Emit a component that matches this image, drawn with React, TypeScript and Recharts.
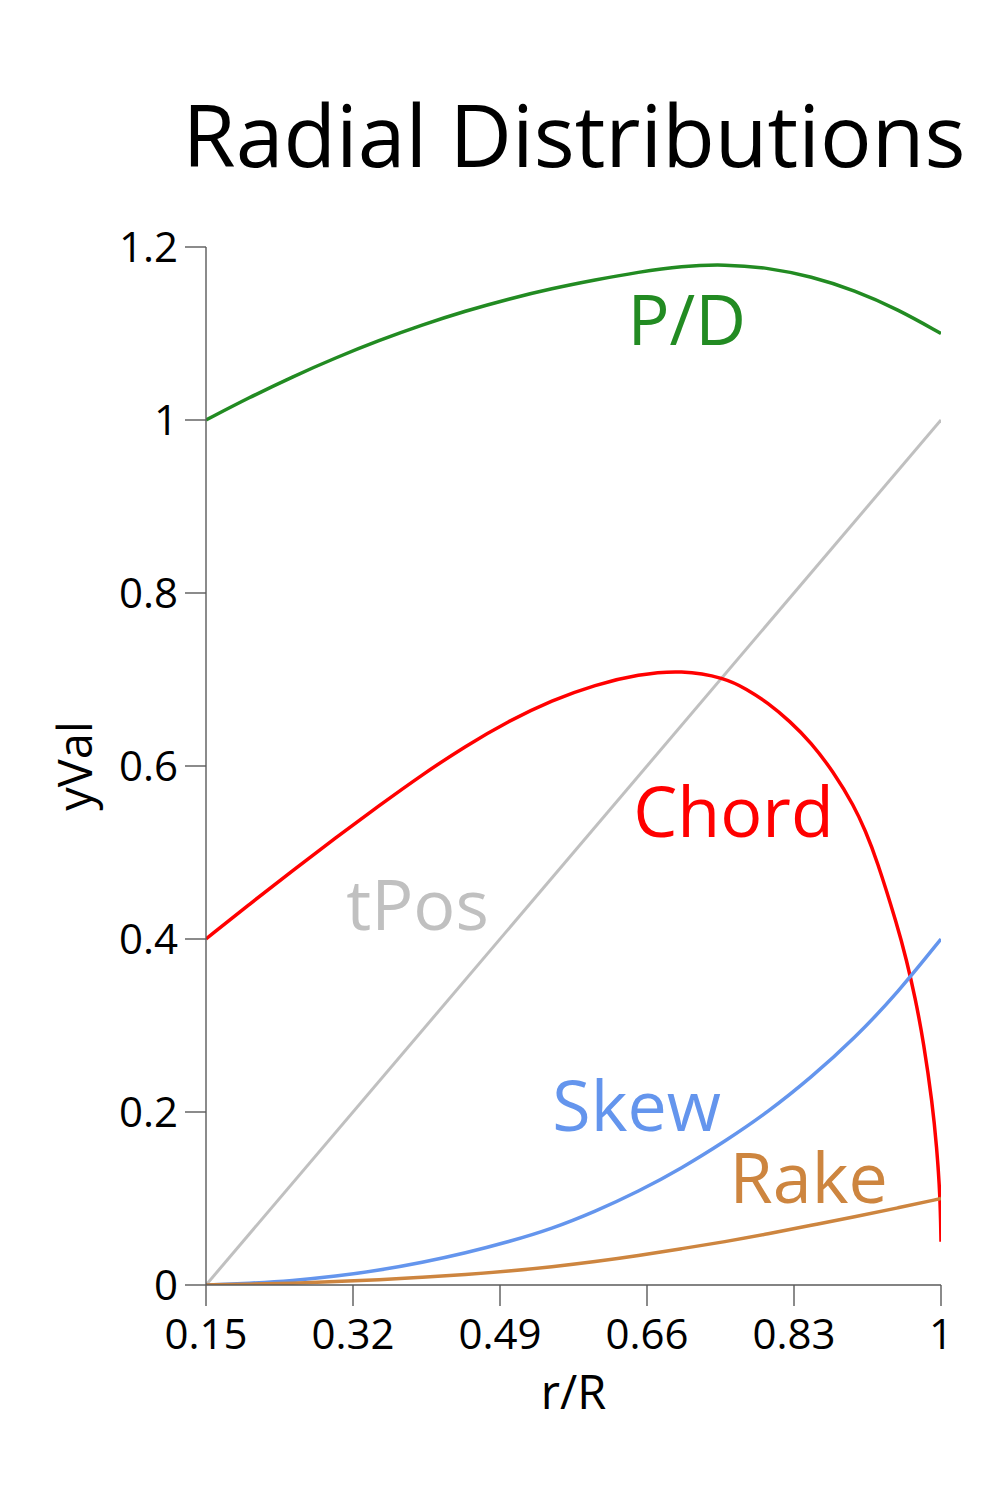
import React from 'react';
import { LineChart, Line, XAxis, YAxis, ReferenceDot } from 'recharts';

// r/R sampling positions
const R_VALUES = [0.15, 0.2, 0.25, 0.3, 0.35, 0.4, 0.45, 0.5, 0.55, 0.6, 0.65, 0.7, 0.75, 0.8, 0.85, 0.9, 0.95, 1.0];
const PD_VALUES = [1.0, 1.026, 1.05, 1.072, 1.092, 1.11, 1.126, 1.14, 1.152, 1.162, 1.171, 1.178, 1.18, 1.176, 1.166, 1.15, 1.128, 1.1];
const SKEW_VALUES = [0, 0.002, 0.005, 0.01, 0.017, 0.026, 0.037, 0.05, 0.065, 0.085, 0.108, 0.135, 0.166, 0.2, 0.24, 0.285, 0.338, 0.4];
const RAKE_VALUES = [0, 0.001, 0.002, 0.004, 0.006, 0.009, 0.012, 0.016, 0.021, 0.027, 0.034, 0.042, 0.05, 0.059, 0.069, 0.079, 0.089, 0.1];

const CHORD_R = [0.15, 0.2, 0.25, 0.3, 0.35, 0.4, 0.45, 0.5, 0.55, 0.6, 0.65, 0.7, 0.75, 0.775, 0.8, 0.825, 0.85, 0.875, 0.9, 0.9125, 0.925, 0.95, 0.96, 0.97, 0.98, 0.99, 0.995, 0.999, 1.0];
const CHORD_VALUES = [0.4, 0.44, 0.479, 0.517, 0.554, 0.59, 0.623, 0.652, 0.676, 0.694, 0.706, 0.711, 0.702, 0.689, 0.673, 0.652, 0.627, 0.594, 0.553, 0.525, 0.494, 0.414, 0.376, 0.333, 0.28, 0.21, 0.16, 0.104, 0.05];

const TPOS_R = [0.15, 1.0];
const TPOS_VALUES = [0, 1];

const X_TICKS = [0.15, 0.32, 0.49, 0.66, 0.83, 1];
const Y_TICKS = [0, 0.2, 0.4, 0.6, 0.8, 1, 1.2];

const TITLE = 'Radial Distributions';
const X_LABEL = 'r/R';
const Y_LABEL = 'yVal';

const toPoints = (xs: number[], ys: number[]) => xs.map((x, i) => ({ x, y: ys[i] }));

const pdData = toPoints(R_VALUES, PD_VALUES);
const skewData = toPoints(R_VALUES, SKEW_VALUES);
const rakeData = toPoints(R_VALUES, RAKE_VALUES);
const chordData = toPoints(CHORD_R, CHORD_VALUES);
const tposData = toPoints(TPOS_R, TPOS_VALUES);

const FONT = '"Open Sans", "Noto Sans", sans-serif';

const seriesLabel = (text: string, color: string) => ({
  value: text,
  position: 'center' as const,
  fill: color,
  fontSize: 70,
  fontFamily: FONT,
});

export default function App() {
  const W = 984;
  const H = 1480;
  return (
    <div style={{ position: 'relative', width: W, height: H }}>
      <LineChart
        width={W}
        height={H}
        margin={{ top: 239, right: 51, bottom: 143, left: 0 }}
      >
        <XAxis
          dataKey="x"
          type="number"
          domain={[0.15, 1]}
          ticks={X_TICKS}
          interval={0}
          allowDataOverflow
          height={60}
          tickSize={21}
          tickMargin={13}
          stroke="#666"
          axisLine={{ stroke: '#5a5a5a', strokeWidth: 1.4 }}
          tickLine={{ stroke: '#5a5a5a', strokeWidth: 1.4 }}
          tick={{ fill: '#000', fontSize: 42, fontFamily: FONT }}
          label={{ value: X_LABEL, position: 'bottom', offset: 31, fill: '#000', fontSize: 47, fontFamily: FONT }}
        />
        <YAxis
          type="number"
          domain={[0, 1.2]}
          ticks={Y_TICKS}
          interval={0}
          allowDataOverflow
          width={198}
          tickSize={21}
          tickMargin={7}
          stroke="#666"
          axisLine={{ stroke: '#5a5a5a', strokeWidth: 1.4 }}
          tickLine={{ stroke: '#5a5a5a', strokeWidth: 1.4 }}
          tick={{ fill: '#000', fontSize: 42, fontFamily: FONT }}
          label={{
            value: Y_LABEL,
            angle: -90,
            position: 'insideLeft',
            offset: 67,
            fill: '#000',
            fontSize: 47,
            fontFamily: FONT,
            style: { textAnchor: 'middle' },
          }}
        />
        <Line data={tposData} dataKey="y" type="linear" stroke="#C0C0C0" strokeWidth={3} dot={false} isAnimationActive={false} />
        <Line data={pdData} dataKey="y" type="basis" stroke="#228B22" strokeWidth={3.5} dot={false} isAnimationActive={false} />
        <Line data={chordData} dataKey="y" type="basis" stroke="#FF0000" strokeWidth={3.5} dot={false} isAnimationActive={false} />
        <Line data={skewData} dataKey="y" type="basis" stroke="#6495ED" strokeWidth={3.5} dot={false} isAnimationActive={false} />
        <Line data={rakeData} dataKey="y" type="basis" stroke="#CD853F" strokeWidth={3.5} dot={false} isAnimationActive={false} />

        <ReferenceDot x={0.706} y={1.116} r={0.01} fill="none" stroke="none" label={seriesLabel('P/D', '#228B22')} />
        <ReferenceDot x={0.76} y={0.547} r={0.01} fill="none" stroke="none" label={seriesLabel('Chord', '#FF0000')} />
        <ReferenceDot x={0.3946} y={0.439} r={0.01} fill="none" stroke="none" label={seriesLabel('tPos', '#C0C0C0')} />
        <ReferenceDot x={0.648} y={0.207} r={0.01} fill="none" stroke="none" label={seriesLabel('Skew', '#6495ED')} />
        <ReferenceDot x={0.847} y={0.124} r={0.01} fill="none" stroke="none" label={seriesLabel('Rake', '#CD853F')} />
      </LineChart>
      <svg
        width={W}
        height={220}
        style={{ position: 'absolute', left: 0, top: 0, pointerEvents: 'none' }}
      >
        <text x={566} y={159} textAnchor="middle" fontSize={86} fontFamily={FONT} fill="#000">
          {TITLE}
        </text>
      </svg>
    </div>
  );
}
